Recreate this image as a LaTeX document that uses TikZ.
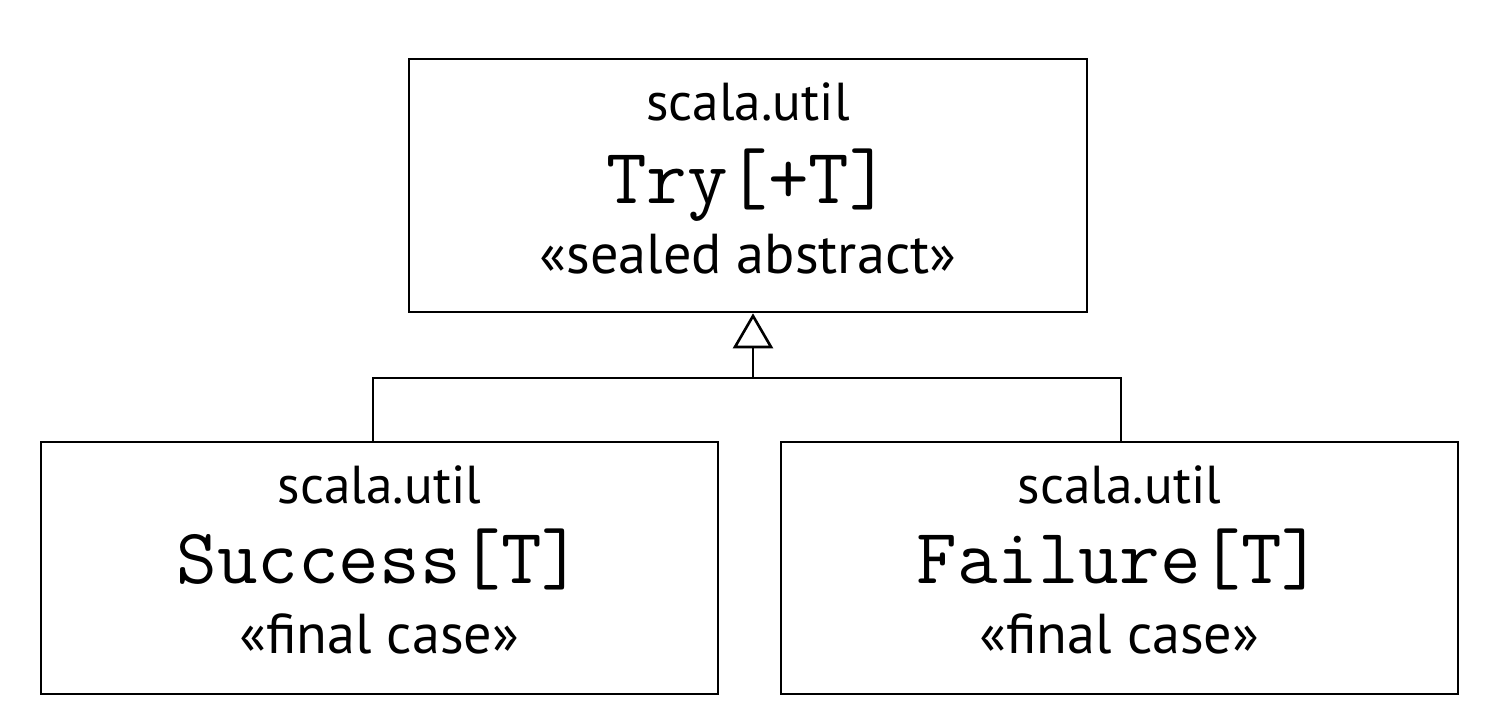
\documentclass[tikz,border=0pt]{standalone}
\usepackage{fontspec}
\setsansfont{PT Sans}
\usetikzlibrary{arrows.meta}

\tikzset{
    classbox/.style={draw, line width=0.75pt, minimum width=6.77cm, minimum height=2.52cm, inner sep=0pt},
    pkgtext/.style={anchor=base, font=\sffamily\fontsize{15.2}{17}\selectfont},
    clstext/.style={anchor=base, font=\ttfamily\fontsize{22.4}{26}\selectfont},
    stereotext/.style={anchor=base, font=\sffamily\fontsize{16}{18}\selectfont},
    inherit/.style={line width=0.75pt, -{Triangle[open, length=0.35cm, width=0.4cm]}}
}

\begin{document}
\begin{tikzpicture}
            \useasboundingbox (0,0) rectangle (15.05,7.07);

            \coordinate (tryc) at (7.48,5.215);
            \coordinate (succc) at (3.795,1.39);
            \coordinate (failc) at (11.195,1.39);
            \coordinate (junc) at (7.53,3.29);

            \node[classbox, minimum width=6.78cm, minimum height=2.53cm] (try) at (tryc) {};
            \node[classbox] (succ) at (succc) {};
            \node[classbox] (fail) at (failc) {};

            \node[pkgtext] (trypkg) at ([yshift=-0.63cm]try.north) {scala.util};
            \node[clstext] (trycls) at ([yshift=-1.46cm]try.north) {Try[+T]};
            \node[stereotext] (trystereo) at ([yshift=-2.16cm]try.north) {«sealed abstract»};

            \node[pkgtext] (succpkg) at ([yshift=-0.63cm]succ.north) {scala.util};
            \node[clstext] (succcls) at ([yshift=-1.43cm]succ.north) {Success[T]};
            \node[stereotext] (succstereo) at ([yshift=-2.13cm]succ.north) {«final case»};

            \node[pkgtext] (failpkg) at ([yshift=-0.63cm]fail.north) {scala.util};
            \node[clstext] (failcls) at ([yshift=-1.43cm]fail.north) {Failure[T]};
            \node[stereotext] (failstereo) at ([yshift=-2.13cm]fail.north) {«final case»};

            \draw[inherit] (junc) -- (junc |- try.south);
            \draw[line width=0.75pt] ([xshift=-0.065cm]succ.north) |- (junc) -| ([xshift=0.015cm]fail.north);
\end{tikzpicture}
\end{document}
